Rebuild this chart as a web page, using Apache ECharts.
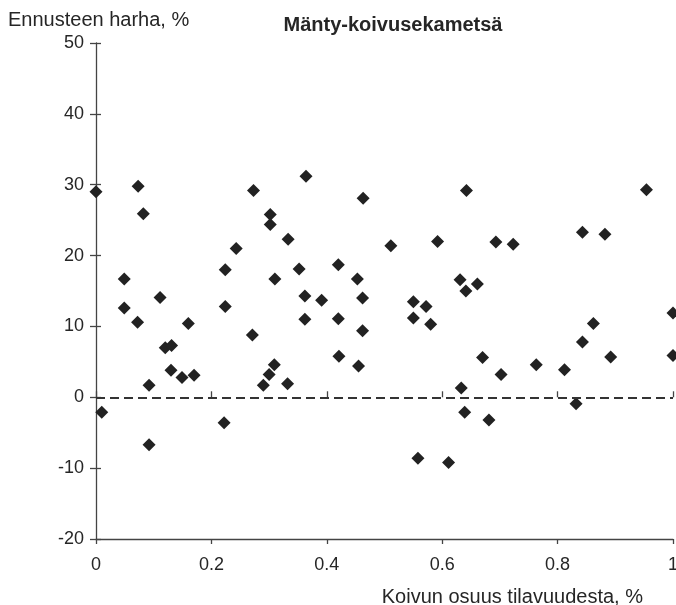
<!DOCTYPE html>
<html>
<head>
<meta charset="utf-8">
<script src="https://cdn.jsdelivr.net/npm/echarts@6/dist/echarts.min.js"></script>
<style>html,body{margin:0;padding:0;background:#fff;overflow:hidden}#c{width:676px;height:605px}</style>
</head>
<body>
<div id="c"></div>
<script>
// Data: [Koivun osuus, Ennusteen harha %]
const xValues = [0.000,0.010,0.049,0.049,0.072,0.073,0.082,0.092,0.092,0.111,0.120,0.131,0.130,0.149,0.160,0.170,
  0.222,0.224,0.224,0.243,0.271,0.273,0.290,0.300,0.302,0.302,0.309,0.310,0.332,0.333,0.352,0.362,0.362,0.364,0.391,
  0.420,0.420,0.421,0.453,0.455,0.462,0.462,0.463,0.511,0.550,0.550,0.558,0.572,0.580,0.592,0.611,0.631,0.633,0.639,
  0.641,0.642,0.661,0.670,0.681,0.693,0.702,0.723,0.763,0.812,0.832,0.843,0.843,0.862,0.882,0.892,0.954,1.000,1.000];
const yValues = [29.0,-2.1,16.7,12.6,10.6,29.8,25.9,1.7,-6.7,14.1,7.0,7.3,3.8,2.8,10.4,3.1,
  -3.6,18.0,12.8,21.0,8.8,29.2,1.7,3.2,25.8,24.4,4.6,16.7,1.9,22.3,18.1,14.3,11.0,31.2,13.7,
  18.7,11.1,5.8,16.7,4.4,14.0,9.4,28.1,21.4,13.5,11.2,-8.6,12.8,10.3,22.0,-9.2,16.6,1.3,-2.1,
  15.0,29.2,16.0,5.6,-3.2,21.9,3.2,21.6,4.6,3.9,-0.9,23.3,7.8,10.4,23.0,5.7,29.3,11.9,5.9];
const xTicks = [0, 0.2, 0.4, 0.6, 0.8, 1];
const yTicks = [-20, -10, 0, 10, 20, 30, 40, 50];
const titleText = 'Mänty-koivusekametsä';
const yName = 'Ennusteen harha, %';
const xName = 'Koivun osuus tilavuudesta, %';

const points = xValues.map((x, i) => [x, yValues[i]]);
const font = 'Arial, "Liberation Sans", Helvetica, sans-serif';
const textColor = '#262626';
const lineColor = '#444';

const chart = echarts.init(document.getElementById('c'), null, {renderer: 'canvas'});
const baseX = {
  type: 'value', min: 0, max: 1, interval: 0.2, position: 'bottom',
  splitLine: {show: false},
  axisLine: {show: true, onZero: false, lineStyle: {color: lineColor, width: 1.3}}
};
const baseY = {
  type: 'value', min: -20, max: 50, interval: 10, position: 'left',
  splitLine: {show: false},
  axisLine: {show: true, onZero: false, lineStyle: {color: lineColor, width: 1.3}}
};
chart.setOption({
  animation: false,
  backgroundColor: '#fff',
  grid: {left: 96, right: 3, top: 43, bottom: 66, containLabel: false, outerBoundsMode: 'none'},
  xAxis: [
    Object.assign({}, baseX, {
      axisTick: {show: true, inside: false, length: 5, lineStyle: {color: lineColor, width: 1.3}},
      axisLabel: {show: true, margin: 17, fontSize: 18, fontFamily: font, color: textColor,
        formatter: v => { const t = xTicks.find(k => Math.abs(k - v) < 1e-9); return t === undefined ? '' : String(t); }}
    }),
    Object.assign({}, baseX, {
      axisLine: {show: false},
      axisTick: {show: true, inside: true, length: 6, lineStyle: {color: lineColor, width: 1.3}},
      axisLabel: {show: false}
    })
  ],
  yAxis: [
    Object.assign({}, baseY, {
      axisTick: {show: true, inside: false, length: 6, lineStyle: {color: lineColor, width: 1.3}},
      axisLabel: {show: true, margin: 12, fontSize: 18, fontFamily: font, color: textColor,
        formatter: v => { const t = yTicks.find(k => Math.abs(k - v) < 1e-9); return t === undefined ? '' : String(t); }}
    }),
    Object.assign({}, baseY, {
      axisLine: {show: false},
      axisTick: {show: true, inside: true, length: 5, lineStyle: {color: lineColor, width: 1.3}},
      axisLabel: {show: false}
    })
  ],
  graphic: [
    {type: 'text', x: 393, y: 25, style: {text: titleText, font: 'bold 20px ' + font, fill: textColor, textAlign: 'center', textVerticalAlign: 'middle'}},
    {type: 'text', x: 8, y: 20, style: {text: yName, font: '20px ' + font, fill: textColor, textAlign: 'left', textVerticalAlign: 'middle'}},
    {type: 'text', x: 643, y: 597, style: {text: xName, font: '20px ' + font, fill: textColor, textAlign: 'right', textVerticalAlign: 'middle'}}
  ],
  series: [{
    type: 'scatter',
    xAxisIndex: 0, yAxisIndex: 0,
    symbol: 'diamond',
    symbolSize: [13, 13],
    clip: false,
    itemStyle: {color: '#222', opacity: 1},
    data: points,
    markLine: {
      silent: true, symbol: 'none', label: {show: false},
      lineStyle: {color: '#333', type: [9, 5], width: 1.8},
      data: [{yAxis: 0}]
    }
  }]
});
</script>
</body>
</html>
